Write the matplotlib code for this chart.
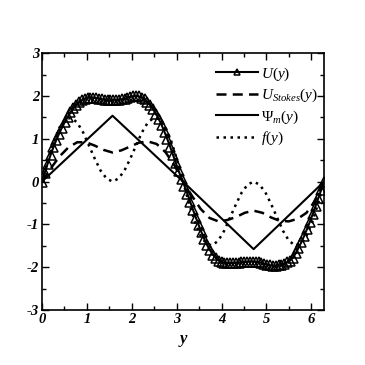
import numpy as np
import matplotlib
matplotlib.use("Agg")
import matplotlib.pyplot as plt
from matplotlib.ticker import MultipleLocator

plt.rcParams['mathtext.fontset'] = 'custom'
plt.rcParams['mathtext.it'] = 'Liberation Serif:italic'
plt.rcParams['mathtext.rm'] = 'Liberation Serif'
plt.rcParams['mathtext.bf'] = 'Liberation Serif:bold'
plt.rcParams['axes.unicode_minus'] = False

# U(y): 100 samples over [0, 2*pi]
y_u = np.linspace(0, 2 * np.pi, 100)
u_vals = [0.00, 0.21, 0.42, 0.62, 0.80, 0.97, 1.12, 1.26, 1.39, 1.51,
          1.62, 1.71, 1.79, 1.85, 1.90, 1.94, 1.96, 1.96, 1.96, 1.95,
          1.94, 1.92, 1.91, 1.90, 1.90, 1.90, 1.90, 1.91, 1.92, 1.94,
          1.96, 1.98, 1.99, 2.00, 1.99, 1.96, 1.92, 1.86, 1.78, 1.69,
          1.58, 1.46, 1.32, 1.16, 0.99, 0.81, 0.62, 0.43, 0.24, 0.07,
          -0.10, -0.28, -0.47, -0.66, -0.84, -1.02, -1.19, -1.35, -1.49, -1.61,
          -1.71, -1.79, -1.85, -1.88, -1.90, -1.91, -1.91, -1.91, -1.90, -1.90,
          -1.89, -1.88, -1.88, -1.87, -1.87, -1.88, -1.89, -1.90, -1.92, -1.94,
          -1.96, -1.97, -1.97, -1.96, -1.95, -1.93, -1.89, -1.85, -1.78, -1.68,
          -1.55, -1.42, -1.27, -1.11, -0.94, -0.76, -0.57, -0.38, -0.19, 0.00]

# U_Stokes(y): samples every pi/16
y_s = np.linspace(0, 2 * np.pi, 33)
stokes_vals = [0.00, 0.31, 0.59, 0.80, 0.92, 0.92, 0.84, 0.74, 0.68, 0.73,
               0.82, 0.91, 0.94, 0.88, 0.69, 0.39, 0.00,
               -0.33, -0.64, -0.85, -0.93, -0.90, -0.83, -0.73, -0.68, -0.73,
               -0.84, -0.92, -0.93, -0.87, -0.73, -0.44, 0.00]

# Psi_m(y): piecewise linear
y_psi = [0, np.pi / 2, np.pi, 3 * np.pi / 2, 2 * np.pi]
psi_vals = [0.0, 1.54, 0.0, -1.58, 0.0]

# f(y): samples every pi/24
y_f = np.linspace(0, 2 * np.pi, 49)
f_vals = [0.00, 0.50, 0.94, 1.27, 1.46, 1.49, 1.38, 1.15, 0.84, 0.53, 0.25, 0.07,
          0.00, 0.07, 0.25, 0.53, 0.84, 1.15, 1.38, 1.49, 1.46, 1.27, 0.94, 0.50,
          0.00, -0.50, -0.94, -1.27, -1.46, -1.49, -1.38, -1.15, -0.84, -0.53, -0.25, -0.07,
          0.00, -0.07, -0.25, -0.53, -0.84, -1.15, -1.38, -1.49, -1.46, -1.27, -0.94, -0.50,
          0.00]

fig = plt.figure(figsize=(3.65, 3.65), dpi=100)
ax = fig.add_axes([0.115, 0.151, 0.773, 0.703])

ax.plot(y_u, u_vals, color='black', lw=1.5, marker='^', ms=6.5,
        mfc='none', mec='black', mew=1.1, label=r'$U(y)$')
ax.plot(y_s, stokes_vals, color='black', lw=1.8, dashes=(4, 2.5),
        label=r'$U_{Stokes}(y)$')
ax.plot(y_psi, psi_vals, color='black', lw=1.5, label=r'$\Psi_m(y)$')
ax.plot(y_f, f_vals, color='black', lw=1.8, linestyle=(0, (1, 1.8)),
        label=r'$f(y)$')

ax.set_xlim(0, 2 * np.pi)
ax.set_ylim(-3, 3)
ax.xaxis.set_major_locator(MultipleLocator(1))
ax.xaxis.set_minor_locator(MultipleLocator(0.5))
ax.yaxis.set_major_locator(MultipleLocator(1))
ax.yaxis.set_minor_locator(MultipleLocator(0.5))
ax.tick_params(which='both', direction='in', top=True, right=True, width=1)
ax.tick_params(which='major', length=5, pad=2)
ax.tick_params(which='minor', length=3)
for s in ax.spines.values():
    s.set_linewidth(1.2)

for lab in ax.get_xticklabels() + ax.get_yticklabels():
    lab.set_fontfamily('Liberation Serif')
    lab.set_fontstyle('italic')
    lab.set_fontweight('bold')
    lab.set_fontsize(10.5)

ax.set_xlabel('y', family='Liberation Serif', style='italic', weight='bold',
              fontsize=12, labelpad=4)

leg = ax.legend(loc='upper right', bbox_to_anchor=(1.015, 0.995), frameon=False,
                fontsize=11, handlelength=2.8, handletextpad=0.15,
                labelspacing=0.28, borderaxespad=0.3)
for h in leg.legend_handles:
    h.set_markersize(4.5)

fig.savefig('out.png', dpi=100)
